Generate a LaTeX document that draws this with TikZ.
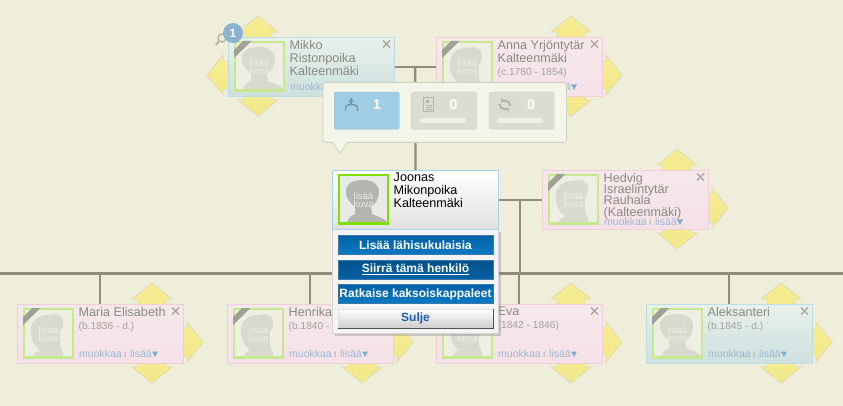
\documentclass[tikz,border=0pt]{standalone}
\usepackage{fontspec}
\setmainfont{Liberation Sans}
\usetikzlibrary{positioning,backgrounds,shadows,calc,arrows.meta}
\definecolor{pagebg}{HTML}{EEEEDB}
\definecolor{linkline}{HTML}{8E8E7C}
\definecolor{fadedtext}{HTML}{8A8A80}
\definecolor{fadeddate}{HTML}{A3A39A}
\definecolor{linktext}{HTML}{9DB8D2}
\definecolor{framegreen}{HTML}{C6E98F}
\definecolor{photofill}{HTML}{EEEEE2}
\definecolor{headfill}{HTML}{D9D9CD}
\definecolor{ribbongrey}{HTML}{A0A094}
\definecolor{tiptop}{HTML}{F7EE93}
\definecolor{tipbottom}{HTML}{F1E88A}
\definecolor{tipedge}{HTML}{DFDCB3}
\definecolor{popupfill}{HTML}{F3F5E9}
\definecolor{popupedge}{HTML}{CFD1C3}
\definecolor{greybtn}{HTML}{DCDDD1}
\definecolor{greybtnedge}{HTML}{CDCEC2}
\definecolor{greyicon}{HTML}{B4B5A8}
\definecolor{greybar}{HTML}{EEEFE5}
\definecolor{bluebtn}{HTML}{A0CEE4}
\definecolor{bluebtnedge}{HTML}{88BCD6}
\definecolor{blueicon}{HTML}{7696A8}
\definecolor{badgeblue}{HTML}{8AB3CF}
\definecolor{linkarrow}{HTML}{7FB0D0}
\definecolor{pinkedge}{HTML}{F4CDDA}
\definecolor{pinktop}{HTML}{F5E8EA}
\definecolor{pinkbottom}{HTML}{F5E1E8}
\definecolor{tealedge}{HTML}{BCDEE4}
\definecolor{tealtop}{HTML}{E8F1EA}
\definecolor{tealbottom}{HTML}{CDE0E0}
\definecolor{nowedge}{HTML}{A5D4E8}
\definecolor{nowbottom}{HTML}{E0E0E0}
\definecolor{menufill}{HTML}{F4F4F4}
\definecolor{menuedge}{HTML}{D6D6D6}
\definecolor{actionedge}{HTML}{3A7AAA}
\definecolor{actiontop}{HTML}{0060A5}
\definecolor{actionbottom}{HTML}{0A7AC3}
\definecolor{movetop}{HTML}{00508C}
\definecolor{movebottom}{HTML}{0862A5}
\definecolor{closetext}{HTML}{1E5CAA}
\definecolor{closeedge}{HTML}{E1E1E1}
\definecolor{closebottom}{HTML}{CDCDCD}
\definecolor{closedark}{HTML}{505050}
\tikzset{
  cardbase/.style={anchor=north west,minimum width=165.5pt,minimum height=59pt,inner sep=0pt,line width=1pt},
  pinkcard/.style={cardbase,draw=pinkedge,top color=pinktop,bottom color=pinkbottom},
  bluecard/.style={cardbase,draw=tealedge,top color=tealtop,bottom color=tealbottom},
  nowcard/.style={cardbase,draw=nowedge,top color=white,bottom color=nowbottom},
  link/.style={draw=linkline,line width=2.2pt},
  nametext/.style={anchor=north west,inner sep=0pt,align=left,text=namecol,font=\fontsize{12.6}{13}\selectfont},
  menubtn/.style={anchor=north west,minimum width=155pt,minimum height=19pt,inner sep=0pt,line width=1pt,text=white,font=\fontsize{12}{13}\bfseries\selectfont,draw=actionedge,top color=actiontop,bottom color=actionbottom},
  popbtn/.style={anchor=north west,minimum width=65pt,minimum height=37pt,inner sep=0pt,rounded corners=1.5pt,draw=greybtnedge,fill=greybtn},
  popnum/.style={text=white,font=\fontsize{14}{14}\bfseries\selectfont,inner sep=0pt},
  yellowtip/.pic={\draw[top color=tiptop,bottom color=tipbottom,draw=tipedge,line width=.8pt] (0,0)--(20,16)--(14,16)--(14,32)--(-14,32)--(-14,16)--(-20,16)--cycle;},
  malehead/.pic={\fill[headcol] (9,50) .. controls (9,45) and (13,42) .. (17,40) -- (17,33) .. controls (11,28) and (7,22) .. (8,16) .. controls (9,8) and (18,6) .. (26,6) .. controls (34,6) and (41,10) .. (41,18) .. controls (41,25) and (37,30) .. (33,33) -- (34,40) .. controls (40,43) and (48,44) .. (50,50) -- cycle;},
  femalehead/.pic={\fill[headcol] (10,50) .. controls (10,46) and (14,44) .. (17,42) .. controls (11,38) and (7,30) .. (8,20) .. controls (9,11) and (18,6) .. (27,7) .. controls (30,5) and (39,6) .. (40,13) .. controls (41,18) and (38,21) .. (37,24) .. controls (37,30) and (36,38) .. (39,42) .. controls (41,44) and (40,47) .. (40,50) -- cycle;},
}
% photo and name of one person
\newcommand{\personface}[3]{
  \begin{scope}[shift={(#1.north west)}]
    \fill[photocol] (7,5) rectangle (56,53.5);
    \pic at (6,4) {#2};
    \draw[framecol,line width=2.2pt] (7,5) rectangle (56,53.5);
    \node[text=labelcol,font=\fontsize{9.5}{10}\selectfont,align=center,inner sep=0pt] (#1kuva) at (31.5,30) {lisää\\[-1.5pt]kuva};
    \node[nametext] (#1name) at (61.5,3) {#3};
  \end{scope}
}
% ribbon, close cross and the links of a faded card
\newcommand{\personextras}[2]{
  \begin{scope}[shift={(#1.north west)}]
    \fill[ribbongrey] (6,13) -- (6,21) -- (23.5,4) -- (15,4) -- cycle;
    \draw[fadeddate,line width=1.3pt] (155,3.5) -- (162,10.5) (162,3.5) -- (155,10.5);
    \node[anchor=west,inner sep=0pt,text=linktext,font=\fontsize{10.5}{11}\selectfont] (#1links) at (62,#2) {muokkaa};
    \node[anchor=west,inner sep=0pt,text=fadeddate,font=\fontsize{8}{9}\selectfont] (#1sep) at (107,#2+1) {I};
    \node[anchor=west,inner sep=0pt,text=linktext,font=\fontsize{10.5}{11}\selectfont] (#1more) at (113,#2) {lisää};
    \fill[linkarrow] (135,#2-2.5) -- (141,#2-2.5) -- (138,#2+3) -- cycle;
  \end{scope}
}
\newcommand{\tipsright}[1]{
  \begin{scope}[shift={(#1.north west)}]
    \pic at (135,-21) {yellowtip};
    \pic[rotate=180] at (135,79) {yellowtip};
    \pic[rotate=-90] at (186,38) {yellowtip};
  \end{scope}
}
\colorlet{namecol}{fadedtext}
\colorlet{photocol}{photofill}
\colorlet{headcol}{headfill}
\colorlet{framecol}{framegreen}
\colorlet{labelcol}{photofill}
\newcommand{\datefont}{\fontsize{10.2}{12}\selectfont\color{fadeddate}}
\begin{document}
\begin{tikzpicture}[x=1pt,y=-1pt]
\useasboundingbox (0,0) rectangle (843,406);

% parents
\node[bluecard] (mikko) at (228,37) {};
\personface{mikko}{malehead}{Mikko\\Ristonpoika\\Kalteenmäki}
\personextras{mikko}{50}
\node[pinkcard] (anna) at (436,37) {};
\personface{anna}{femalehead}{Anna Yrjöntytär\\Kalteenmäki\\{\datefont (c.1780 - 1854)}}
\personextras{anna}{50}
\node[pinkcard] (hedvig) at (542,170) {};
\personface{hedvig}{femalehead}{Hedvig\\[-1.7pt]Israelintytär\\[-1.7pt]Rauhala\\[-1.7pt](Kalteenmäki)}
\personextras{hedvig}{52}

% children
\node[pinkcard] (maria) at (17,304) {};
\personface{maria}{femalehead}{Maria Elisabeth\\{\datefont (b.1836 - d.)}}
\personextras{maria}{50}
\node[pinkcard] (henrika) at (227,304) {};
\personface{henrika}{femalehead}{Henrika\\{\datefont (b.1840 - d.)}}
\personextras{henrika}{50}
\node[pinkcard] (eva) at (436,304) {};
\personface{eva}{femalehead}{Eva\\{\datefont (1842 - 1846)}}
\personextras{eva}{50}
\node[bluecard] (aleksanteri) at (646,304) {};
\personface{aleksanteri}{malehead}{Aleksanteri\\{\datefont (b.1845 - d.)}}
\personextras{aleksanteri}{50}

% hint badge
\draw[greyicon,line width=1.4pt] (222,38) circle (4);
\draw[greyicon,line width=2pt] (219,41) -- (216,45);
\node[circle,fill=badgeblue,minimum size=20pt,inner sep=0pt,text=white,font=\fontsize{12}{12}\bfseries\selectfont] (badge) at (233,33) {1};

% selected person with menu
\node[anchor=north west,minimum width=166pt,minimum height=104pt,inner sep=0pt,fill=menufill,draw=menuedge,drop shadow={shadow xshift=3pt,shadow yshift=-3pt,opacity=.35}] (menu) at (332,228.5) {};
\node[nowcard,minimum width=166pt] (joonas) at (332,170) {};
\begingroup
\colorlet{namecol}{black}
\definecolor{photocol}{HTML}{E9E9E6}
\definecolor{headcol}{HTML}{B4B4B0}
\definecolor{framecol}{HTML}{7EE000}
\definecolor{labelcol}{HTML}{E9E9E6}
\personface{joonas}{malehead}{Joonas\\Mikonpoika\\Kalteenmäki}
\endgroup
\node[menubtn] (btnadd) at (337.5,235) {Lisää lähisukulaisia};
\node[menubtn,below=4.5pt of btnadd,top color=movetop,bottom color=movebottom] (btnmove) {\underline{Siirrä tämä henkilö}};
\node[menubtn,below=4.5pt of btnmove] (btnsolve) {Ratkaise kaksoiskappaleet};
\node[menubtn,below=4.5pt of btnsolve,text=closetext,draw=closeedge,top color=white,bottom color=closebottom] (btnclose) {Sulje};
\draw[closedark,line width=1pt] (btnclose.south west) -- (btnclose.south east) -- (btnclose.north east);

% popup
\node[anchor=north west,minimum width=243.5pt,minimum height=60pt,inner sep=0pt,rounded corners=3pt,fill=popupfill,draw=popupedge,line width=.8pt] (popup) at (322.5,82) {};
\draw[popupedge,line width=.8pt,fill=popupfill] (332,142) -- (340,153) -- (348,142);
\fill[popupfill] (333,141) rectangle (347,142.6);
\node[popbtn,fill=bluebtn,draw=bluebtnedge] (poptree) at (334,92) {};
\node[popbtn,right=12pt of poptree] (popdoc) {};
\node[popbtn,right=12pt of popdoc] (popsync) {};
\node[popnum] (numtree) at (377,104.5) {1};
\node[popnum] (numdoc) at (453.5,104.5) {0};
\node[popnum] (numsync) at (531,104.5) {0};
% icons in the popup
\draw[blueicon,line width=1.4pt,-{Stealth[length=4pt,width=6pt]}] (351,104) -- (351,98);
\draw[blueicon,line width=1.4pt] (345.5,111) -- (345.5,108) .. controls (345.5,105) and (349,104.5) .. (351,104.5) .. controls (353,104.5) and (357.5,105) .. (357.5,108) -- (357.5,111);
\draw[greyicon,line width=1pt,fill=greybtn] (423.5,97.5) rectangle (433.5,111.5);
\fill[greyicon] (425.5,100) rectangle (428.5,103);
\draw[greyicon,line width=.8pt] (425.5,105) -- (431.5,105) (425.5,107) -- (431.5,107) (425.5,109) -- (431.5,109);
\draw[greyicon,line width=2pt,-{Stealth[length=4pt,width=6pt]}] (499.5,104) arc[start angle=180,end angle=45,radius=5.5];
\draw[greyicon,line width=2pt,-{Stealth[length=4pt,width=6pt]}] (510.5,106) arc[start angle=0,end angle=-135,radius=5.5];
\fill[greybar,rounded corners=2.5pt] (420,118) rectangle (466,123);
\fill[greybar,rounded corners=2.5pt] (497,118) rectangle (543,123);

\begin{scope}[on background layer]
  \fill[pagebg] (0,0) rectangle (843,406);
  % family lines
  \coordinate (parentsmid) at ($(mikko)!.5!(anna)$);
  \coordinate (couplemid) at ($(joonas)!.5!(hedvig)$);
  \coordinate (railw) at (0,273.5);
  \coordinate (raile) at (843,273.5);
  \draw[link] (railw) -- (raile);
  \draw[link] (mikko) -- (anna);
  \draw[link] (parentsmid) -- (joonas);
  \draw[link] (joonas) -- (hedvig);
  \draw[link] (couplemid) -- (couplemid |- railw);
  \foreach \kid in {maria,henrika,eva,aleksanteri}
    \draw[link] (\kid.north |- railw) -- (\kid.north);
  % yellow move tips
  \begin{scope}[shift={(mikko.north west)}]
    \pic at (30,-21) {yellowtip};
    \pic[rotate=180] at (30,79) {yellowtip};
    \pic[rotate=90] at (-21,38) {yellowtip};
  \end{scope}
  \foreach \who in {anna,hedvig,maria,henrika,eva,aleksanteri}
    {\tipsright{\who}}
\end{scope}
\end{tikzpicture}
\end{document}
